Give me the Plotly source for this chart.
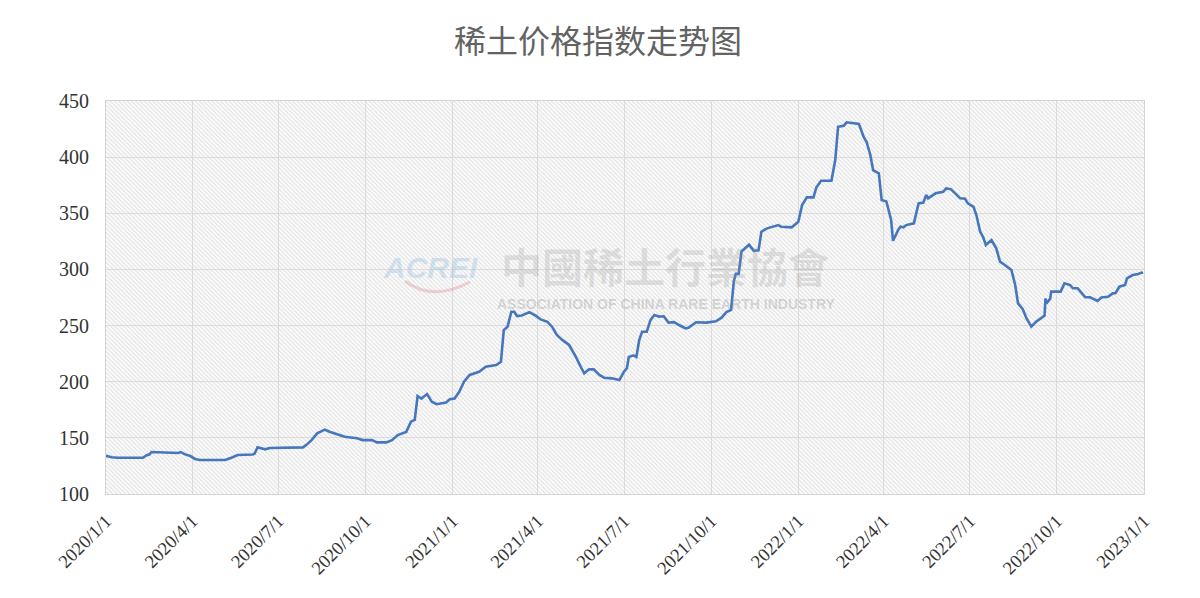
import plotly.graph_objects as go

# ---------------- data ----------------
dates = [
    "2020-01-01", "2020-01-07", "2020-01-13", "2020-02-09", "2020-02-13", "2020-02-16",
    "2020-02-18", "2020-03-03", "2020-03-08", "2020-03-17", "2020-03-20", "2020-03-24",
    "2020-03-30", "2020-04-04", "2020-04-09", "2020-05-06", "2020-05-13", "2020-05-19",
    "2020-06-04", "2020-06-06", "2020-06-09", "2020-06-17", "2020-06-22", "2020-07-27",
    "2020-07-31", "2020-08-05", "2020-08-11", "2020-08-19", "2020-08-24", "2020-08-29",
    "2020-09-09", "2020-09-22", "2020-09-28", "2020-10-08", "2020-10-13", "2020-10-23",
    "2020-10-29", "2020-11-04", "2020-11-13", "2020-11-18", "2020-11-22", "2020-11-25",
    "2020-11-29", "2020-12-05", "2020-12-10", "2020-12-15", "2020-12-25", "2020-12-29",
    "2021-01-03", "2021-01-08", "2021-01-13", "2021-01-19", "2021-01-29", "2021-02-05",
    "2021-02-16", "2021-02-21", "2021-02-24", "2021-02-28", "2021-03-04", "2021-03-07",
    "2021-03-10", "2021-03-15", "2021-03-23", "2021-03-30", "2021-04-04", "2021-04-11",
    "2021-04-16", "2021-04-21", "2021-04-27", "2021-05-04", "2021-05-11", "2021-05-17",
    "2021-05-20", "2021-05-25", "2021-05-30", "2021-06-05", "2021-06-10", "2021-06-18",
    "2021-06-26", "2021-07-01", "2021-07-04", "2021-07-06", "2021-07-11", "2021-07-14",
    "2021-07-17", "2021-07-20", "2021-07-25", "2021-07-29", "2021-08-02", "2021-08-07",
    "2021-08-12", "2021-08-17", "2021-08-23", "2021-08-28", "2021-09-04", "2021-09-07",
    "2021-09-15", "2021-09-26", "2021-10-06", "2021-10-12", "2021-10-17", "2021-10-22",
    "2021-10-25", "2021-10-27", "2021-10-30", "2021-11-02", "2021-11-10", "2021-11-15",
    "2021-11-20", "2021-11-23", "2021-11-29", "2021-12-11", "2021-12-14", "2021-12-25",
    "2022-01-01", "2022-01-05", "2022-01-10", "2022-01-17", "2022-01-20", "2022-01-25",
    "2022-02-05", "2022-02-09", "2022-02-12", "2022-02-18", "2022-02-21", "2022-03-06",
    "2022-03-11", "2022-03-14", "2022-03-18", "2022-03-21", "2022-03-27", "2022-03-30",
    "2022-04-04", "2022-04-09", "2022-04-11", "2022-04-17", "2022-04-19", "2022-04-22",
    "2022-04-25", "2022-05-03", "2022-05-08", "2022-05-13", "2022-05-16", "2022-05-18",
    "2022-05-26", "2022-06-03", "2022-06-06", "2022-06-11", "2022-06-17", "2022-06-21",
    "2022-06-26", "2022-06-29", "2022-07-05", "2022-07-08", "2022-07-12", "2022-07-15",
    "2022-07-18", "2022-07-24", "2022-07-29", "2022-08-02", "2022-08-07", "2022-08-14",
    "2022-08-18", "2022-08-21", "2022-08-26", "2022-08-30", "2022-09-04", "2022-09-09",
    "2022-09-14", "2022-09-18", "2022-09-19", "2022-09-20", "2022-09-24", "2022-09-25",
    "2022-10-05", "2022-10-09", "2022-10-15", "2022-10-18", "2022-10-23", "2022-10-31",
    "2022-11-05", "2022-11-08", "2022-11-13", "2022-11-17", "2022-11-24", "2022-11-29",
    "2022-12-02", "2022-12-06", "2022-12-12", "2022-12-14", "2022-12-20", "2022-12-26",
    "2022-12-29", "2022-12-31",
]

index_values = [
    134.0, 132.8, 132.3, 132.3, 134.5, 135.3,
    137.4, 137.2, 136.5, 136.5, 137.3, 135.5,
    133.8, 131.2, 130.3, 130.3, 132.5, 134.7,
    135.2, 136.0, 141.6, 139.8, 141.0, 141.5,
    144.0, 148.0, 154.0, 157.3, 155.5, 154.3,
    151.0, 149.6, 148.0, 148.0, 146.0, 146.0,
    148.0, 152.5, 155.3, 164.4, 166.0, 187.3,
    185.0, 189.0, 182.2, 180.0, 181.5, 184.3,
    185.0, 191.0, 200.0, 206.0, 208.9, 213.4,
    214.8, 217.8, 246.0, 249.0, 262.3, 262.3,
    258.5, 259.0, 262.0, 258.6, 255.5, 253.4,
    249.0, 241.6, 237.0, 232.7, 222.3, 212.0,
    207.5, 211.0, 211.0, 206.0, 203.6, 203.0,
    201.5, 209.0, 212.0, 222.0, 223.5, 222.0,
    237.0, 244.5, 244.5, 255.0, 259.4, 258.0,
    258.3, 252.6, 253.0, 250.5, 247.5, 248.0,
    253.0, 252.6, 253.8, 257.0, 262.0, 264.0,
    290.0, 296.0, 296.0, 316.0, 322.0, 316.5,
    317.0, 333.6, 336.6, 339.5, 338.0, 337.5,
    342.5, 357.3, 364.2, 364.2, 373.0, 379.0,
    379.0, 397.4, 427.0, 428.0, 431.0, 429.5,
    418.0, 413.7, 402.0, 388.5, 385.6, 361.8,
    360.5, 344.0, 325.5, 336.0, 338.0, 337.5,
    339.5, 341.0, 358.8, 359.5, 366.3, 363.3,
    367.8, 369.2, 372.2, 371.5, 367.1, 363.3,
    363.0, 358.8, 355.8, 348.4, 333.6, 329.1,
    321.7, 326.2, 318.8, 306.9, 303.9, 299.5,
    286.1, 269.8, 264.5, 256.4, 249.0, 253.4,
    256.4, 259.0, 274.2, 269.8, 274.0, 280.2,
    280.2, 287.6, 286.1, 283.2, 283.2, 275.2,
    275.2, 274.2, 271.9, 275.0, 275.7, 278.7,
    279.0, 284.6, 286.1, 292.1, 295.0, 296.0,
    297.1, 297.1,
]

tick_dates = [
    "2020-01-01", "2020-04-01", "2020-07-01", "2020-10-01",
    "2021-01-01", "2021-04-01", "2021-07-01", "2021-10-01",
    "2022-01-01", "2022-04-01", "2022-07-01", "2022-10-01",
    "2023-01-01",
]
tick_labels = [
    "2020/1/1", "2020/4/1", "2020/7/1", "2020/10/1",
    "2021/1/1", "2021/4/1", "2021/7/1", "2021/10/1",
    "2022/1/1", "2022/4/1", "2022/7/1", "2022/10/1",
    "2023/1/1",
]

title_text = "稀土价格指数走势图"
x_range = ["2020-01-01", "2023-01-01"]
y_range = [100, 450]

# ---------------- layout geometry (page has an 8px body margin) ----------------
OFF = 8
FIG_W, FIG_H = 1184, 582
PL, PT, PW, PH = 106 - OFF, 101 - OFF, 1038, 393


def px(xp):  # page x -> paper x
    return (xp - OFF - PL) / PW


def py(yp):  # page y -> paper y
    return (PT + PH - (yp - OFF)) / PH


# ---------------- figure ----------------
fig = go.Figure()

# hatched plot-area background (decoration spanning the axis ranges)
fig.add_trace(go.Scatter(
    x=[x_range[0], x_range[1], x_range[1], x_range[0], x_range[0]],
    y=[y_range[0], y_range[0], y_range[1], y_range[1], y_range[0]],
    mode="lines", line=dict(width=0, color="rgba(0,0,0,0)"),
    fill="toself", fillcolor="rgba(0,0,0,0)",
    fillpattern=dict(shape="\\", fgcolor="#cccccc", bgcolor="rgba(0,0,0,0)",
                     size=3, solidity=0.5),
    hoverinfo="skip", showlegend=False,
))

fig.add_trace(go.Scatter(
    x=dates, y=index_values, mode="lines",
    line=dict(color="#4677bd", width=2.6),
    showlegend=False, name="稀土价格指数",
))

serif = "Liberation Serif, Times New Roman, serif"

fig.update_layout(
    width=FIG_W, height=FIG_H,
    margin=dict(l=PL, r=FIG_W - PL - PW, t=PT, b=FIG_H - PT - PH),
    paper_bgcolor="white", plot_bgcolor="white",
    title=dict(text=title_text, x=(598 - OFF) / FIG_W, xanchor="center",
               y=1 - (42 - OFF) / FIG_H, yanchor="middle", yref="container",
               font=dict(family="Noto Sans CJK SC", size=32, color="#636363")),
    xaxis=dict(
        type="date", range=x_range,
        tickmode="array", tickvals=tick_dates, ticktext=tick_labels,
        tickangle=-45, tickfont=dict(family=serif, size=18.5, color="#333333"),
        showgrid=True, gridcolor="#e0e0e0", gridwidth=1,
        showline=True, linecolor="#d4d4d4", linewidth=1, mirror=True,
        ticks="outside", ticklen=8, tickcolor="rgba(0,0,0,0)", zeroline=False,
    ),
    yaxis=dict(
        range=y_range, dtick=50, tick0=100,
        tickfont=dict(family=serif, size=20, color="#333333"),
        showgrid=True, gridcolor="#e0e0e0", gridwidth=1,
        showline=True, linecolor="#d4d4d4", linewidth=1, mirror=True,
        ticks="outside", ticklen=12, tickcolor="rgba(0,0,0,0)", zeroline=False,
    ),
)

# watermark
fig.add_annotation(
    text="<b><i>ACREI</i></b>", xref="paper", yref="paper",
    x=px(430), y=py(267), xanchor="center", yanchor="middle", showarrow=False,
    font=dict(family="Liberation Sans, Arial", size=30, color="rgba(150,190,225,0.38)"),
)
fig.add_shape(
    type="path", xref="paper", yref="paper",
    path="M {0},{1} Q {2},{3} {4},{5}".format(
        px(405), py(281), px(432), py(302), px(470), py(282)),
    line=dict(color="rgba(220,120,130,0.3)", width=3),
)
fig.add_annotation(
    text="<b>中國稀土行業協會</b>", xref="paper", yref="paper",
    x=px(665), y=py(265), xanchor="center", yanchor="middle", showarrow=False,
    font=dict(family="Noto Sans CJK TC", size=41, color="rgba(150,150,150,0.25)"),
)
fig.add_annotation(
    text="<b>ASSOCIATION OF CHINA RARE EARTH INDUSTRY</b>", xref="paper", yref="paper",
    x=px(666), y=py(304), xanchor="center", yanchor="middle", showarrow=False,
    font=dict(family="Liberation Sans, Arial", size=14, color="rgba(150,150,150,0.35)"),
)

fig.write_html("out.html")
